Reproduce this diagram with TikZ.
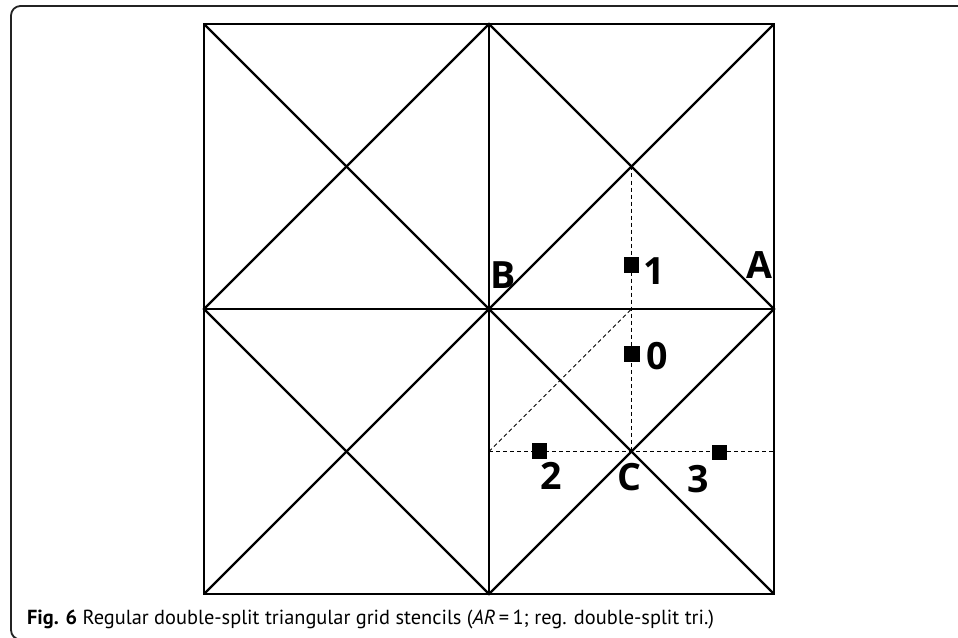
\documentclass[tikz,border=0pt]{standalone}
\usepackage{fontspec}
\usepackage{tikz}
\setmainfont{PT Sans}
\newfontfamily\labfont{Open Sans}
\definecolor{figline}{RGB}{0,0,0}
\definecolor{figframe}{RGB}{35,35,35}
\tikzset{
  gl/.style  ={draw=figline, line width=1.3pt},
  gd/.style  ={draw=figline, line width=0.55pt, dash pattern=on 2.4pt off 1.8pt},
  fr/.style  ={draw=figframe, line width=1.1pt, rounded corners=0.2cm},
  mk/.style  ={fill=figline, inner sep=0pt, minimum size=0.33cm},
  lab/.style ={font=\labfont\bfseries\fontsize{22.5}{22.5}\selectfont, inner sep=0pt},
  capt/.style={font=\fontsize{12.2}{14}\selectfont, inner sep=0pt, anchor=base west},
}
\begin{document}
\begin{tikzpicture}
  \useasboundingbox (-10.295,-6.926) rectangle (9.874,6.505);
  \draw[fr] (-10.063,-6.96) rectangle (10.6,6.379);
  % grid
  \draw[gl] (-6,-6) rectangle (6,6);
  \draw[gl] (-6,0) -- (6,0);
  \draw[gl] (0,-6) -- (0,6);
  \draw[gl] (-6,-6) -- (6,6);
  \draw[gl] (-6,6) -- (6,-6);
  \draw[gl] (0,6) -- (6,0) -- (0,-6) -- (-6,0) -- cycle;
  % stencil
  \coordinate (T) at (3,3);
  \coordinate (C) at (3,-3);
  \coordinate (M) at (3,0);
  \coordinate (L) at (0,-3);
  \coordinate (R) at (6,-3);
  \draw[gd] (T) -- (C);
  \draw[gd] (L) -- (R);
  \draw[gd] (L) -- (M);
  \node[mk] (m1) at (3.0,0.93) {};
  \node[mk] (m0) at (3.01,-0.95) {};
  \node[mk] (m2) at (1.06,-2.99) {};
  \node[mk] (m3) at (4.85,-3.02) {};
  \node[lab] (n1) at (3.48,0.79) {1};
  \node[lab] (n0) at (3.54,-1.0) {0};
  \node[lab] (n2) at (1.30,-3.52) {2};
  \node[lab] (n3) at (4.41,-3.58) {3};
  \node[lab] (lA) at (5.69,0.92) {A};
  \node[lab] (lB) at (0.29,0.71) {B};
  \node[lab] (lC) at (2.95,-3.53) {C};
  % caption
  \node[capt] (cap) at (-9.733,-6.638) {\textbf{Fig. 6} Regular double-split triangular grid stencils (\textit{AR}\,=\,1; reg. double-split tri.)};
\end{tikzpicture}
\end{document}
